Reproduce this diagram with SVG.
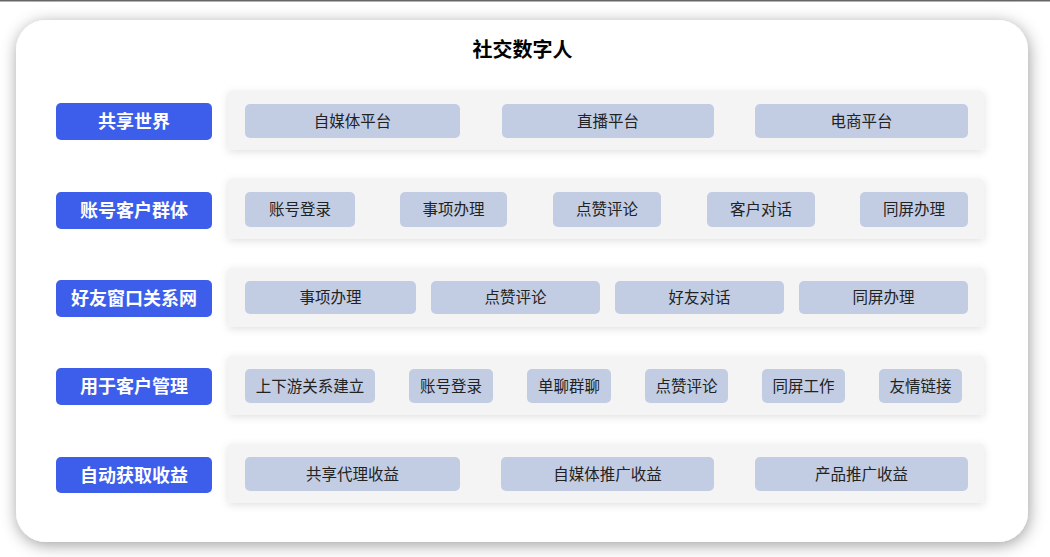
<svg xmlns="http://www.w3.org/2000/svg" width="1050" height="557" viewBox="0 0 1050 557">
<defs>
<filter id="cardShadow" x="-10%" y="-10%" width="120%" height="125%">
<feDropShadow dx="1" dy="3" stdDeviation="8" flood-color="#000" flood-opacity="0.38"/>
</filter>
<filter id="panelShadow" x="-5%" y="-30%" width="110%" height="160%">
<feDropShadow dx="0" dy="2" stdDeviation="4" flood-color="#000" flood-opacity="0.12"/>
</filter>
<style>
.label rect{fill:#3D5EEB}
.label text{fill:#fff;font-family:"Noto Sans CJK SC","Liberation Sans",sans-serif;font-weight:bold;font-size:18px;text-anchor:middle;dominant-baseline:central}
.panel{fill:#F4F4F4;filter:url(#panelShadow)}
.chip rect{fill:#C2CDE3}
.chip text{fill:#222;font-family:"Noto Sans CJK SC","Liberation Sans",sans-serif;font-size:15.5px;text-anchor:middle;dominant-baseline:central}
.title{fill:#000;font-family:"Noto Sans CJK SC","Liberation Sans",sans-serif;font-weight:bold;font-size:20px;text-anchor:middle;dominant-baseline:central}
</style>
</defs>
<rect x="0" y="0" width="1050" height="557" fill="#fff"/>
<rect x="0" y="0" width="1050" height="1.5" fill="#666"/>
<rect id="card" x="16" y="20" width="1012" height="522" rx="30" fill="#fff" filter="url(#cardShadow)"/>
<text class="title" x="522.5" y="48.5">社交数字人</text>

<g id="row1">
<g class="label" id="label1"><rect x="56" y="103" width="156" height="37" rx="5"/><text x="134" y="120">共享世界</text></g>
<rect class="panel" x="228" y="91" width="756" height="59" rx="3"/>
<g class="chip" id="r1c1"><rect x="245" y="104" width="215" height="34" rx="5"/><text x="352.5" y="119.5">自媒体平台</text></g>
<g class="chip" id="r1c2"><rect x="502" y="104" width="212" height="34" rx="5"/><text x="608" y="119.5">直播平台</text></g>
<g class="chip" id="r1c3"><rect x="755" y="104" width="213" height="34" rx="5"/><text x="861.5" y="119.5">电商平台</text></g>
</g>

<g id="row2">
<g class="label" id="label2"><rect x="56" y="192" width="156" height="37" rx="5"/><text x="134" y="209">账号客户群体</text></g>
<rect class="panel" x="228" y="179" width="756" height="60" rx="3"/>
<g class="chip" id="r2c1"><rect x="245" y="192" width="110" height="35" rx="5"/><text x="300" y="208">账号登录</text></g>
<g class="chip" id="r2c2"><rect x="400" y="192" width="107" height="35" rx="5"/><text x="453.5" y="208">事项办理</text></g>
<g class="chip" id="r2c3"><rect x="553" y="192" width="108" height="35" rx="5"/><text x="607" y="208">点赞评论</text></g>
<g class="chip" id="r2c4"><rect x="707" y="192" width="108" height="35" rx="5"/><text x="761" y="208">客户对话</text></g>
<g class="chip" id="r2c5"><rect x="860" y="192" width="108" height="35" rx="5"/><text x="914" y="208">同屏办理</text></g>
</g>

<g id="row3">
<g class="label" id="label3"><rect x="56" y="280" width="156" height="37" rx="5"/><text x="134" y="297">好友窗口关系网</text></g>
<rect class="panel" x="228" y="268" width="756" height="59" rx="3"/>
<g class="chip" id="r3c1"><rect x="245" y="281" width="171" height="33" rx="5"/><text x="330.5" y="296">事项办理</text></g>
<g class="chip" id="r3c2"><rect x="431" y="281" width="169" height="33" rx="5"/><text x="515.5" y="296">点赞评论</text></g>
<g class="chip" id="r3c3"><rect x="615" y="281" width="169" height="33" rx="5"/><text x="699.5" y="296">好友对话</text></g>
<g class="chip" id="r3c4"><rect x="799" y="281" width="169" height="33" rx="5"/><text x="883.5" y="296">同屏办理</text></g>
</g>

<g id="row4">
<g class="label" id="label4"><rect x="56" y="368" width="156" height="37" rx="5"/><text x="134" y="385">用于客户管理</text></g>
<rect class="panel" x="228" y="356" width="756" height="59" rx="3"/>
<g class="chip" id="r4c1"><rect x="245" y="369" width="130" height="34" rx="5"/><text x="310" y="384.5">上下游关系建立</text></g>
<g class="chip" id="r4c2"><rect x="409" y="369" width="84" height="34" rx="5"/><text x="451" y="384.5">账号登录</text></g>
<g class="chip" id="r4c3"><rect x="527" y="369" width="84" height="34" rx="5"/><text x="569" y="384.5">单聊群聊</text></g>
<g class="chip" id="r4c4"><rect x="645" y="369" width="83" height="34" rx="5"/><text x="686.5" y="384.5">点赞评论</text></g>
<g class="chip" id="r4c5"><rect x="762" y="369" width="83" height="34" rx="5"/><text x="803.5" y="384.5">同屏工作</text></g>
<g class="chip" id="r4c6"><rect x="879" y="369" width="83" height="34" rx="5"/><text x="920.5" y="384.5">友情链接</text></g>
</g>

<g id="row5">
<g class="label" id="label5"><rect x="56" y="457" width="156" height="36" rx="5"/><text x="134" y="473.5">自动获取收益</text></g>
<rect class="panel" x="228" y="444" width="756" height="59" rx="3"/>
<g class="chip" id="r5c1"><rect x="245" y="457" width="215" height="34" rx="5"/><text x="352.5" y="472.5">共享代理收益</text></g>
<g class="chip" id="r5c2"><rect x="501" y="457" width="213" height="34" rx="5"/><text x="607.5" y="472.5">自媒体推广收益</text></g>
<g class="chip" id="r5c3"><rect x="755" y="457" width="213" height="34" rx="5"/><text x="861.5" y="472.5">产品推广收益</text></g>
</g>
<g id="connectors"/>
</svg>
